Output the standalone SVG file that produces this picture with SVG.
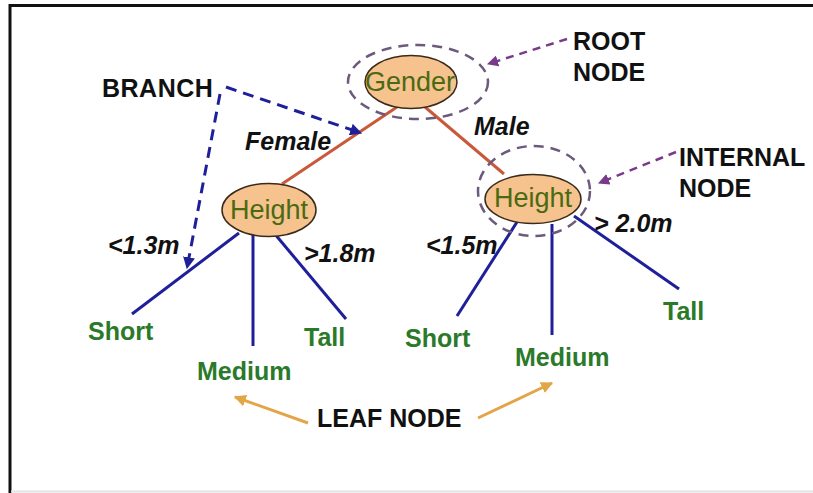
<svg xmlns="http://www.w3.org/2000/svg" width="813" height="493" viewBox="0 0 813 493">
  <defs>
    <marker id="ah-blue" viewBox="0 0 10 10" refX="9" refY="5" markerWidth="4" markerHeight="4" orient="auto" markerUnits="strokeWidth">
      <path d="M0,0 L10,5 L0,10 z" fill="#1f1f9a"/>
    </marker>
    <marker id="ah-purple" viewBox="0 0 10 10" refX="9" refY="5" markerWidth="4.5" markerHeight="4.5" orient="auto" markerUnits="strokeWidth">
      <path d="M0,0 L10,5 L0,10 z" fill="#7a3a8a"/>
    </marker>
    <marker id="ah-gold" viewBox="0 0 10 10" refX="9" refY="5" markerWidth="4" markerHeight="4" orient="auto" markerUnits="strokeWidth">
      <path d="M0,0 L10,5 L0,10 z" fill="#e2a548"/>
    </marker>
  </defs>
  <style>
    .lbl { font-family: "Liberation Sans", Arial, sans-serif; font-weight: bold; font-size: 25px; fill: #111; }
    .cond { font-family: "Liberation Sans", Arial, sans-serif; font-weight: bold; font-style: italic; font-size: 25px; fill: #111; }
    .leaf { font-family: "Liberation Sans", Arial, sans-serif; font-weight: bold; font-size: 25px; fill: #2a7a2a; }
    .ntext { font-family: "Liberation Sans", Arial, sans-serif; font-size: 27px; fill: #4a6a12; text-anchor: middle; }
    .node { fill: #f6c28e; stroke: #3a2a1a; stroke-width: 1.5; }
    .ring { fill: none; stroke: #6c5a7c; stroke-width: 2.5; stroke-dasharray: 10 7; }
    .edge-top { stroke: #c9593a; stroke-width: 3; fill: none; }
    .edge { stroke: #1f1f9a; stroke-width: 3; fill: none; }
    .ptr-blue { stroke: #1f1f9a; stroke-width: 3; stroke-dasharray: 11 7; fill: none; marker-end: url(#ah-blue); }
    .ptr-purple { stroke: #7a3a8a; stroke-width: 2.5; stroke-dasharray: 8 6; fill: none; marker-end: url(#ah-purple); }
    .ptr-gold { stroke: #e2a548; stroke-width: 3; fill: none; marker-end: url(#ah-gold); }
  </style>

  <!-- page background and frame -->
  <rect x="0" y="0" width="813" height="493" fill="#ffffff"/>
  <line x1="10" y1="5.5" x2="813" y2="5.5" stroke="#111" stroke-width="3"/>
  <line x1="10" y1="4" x2="10" y2="493" stroke="#111" stroke-width="3"/>
  <line x1="11" y1="491.5" x2="813" y2="491.5" stroke="#e4e4e4" stroke-width="2"/>

  <!-- connectors -->
  <g id="connectors">
    <line class="edge-top" x1="397" y1="107" x2="282" y2="184"/>
    <line class="edge-top" x1="425" y1="107" x2="504" y2="174"/>
    <line class="edge" x1="239" y1="233" x2="132" y2="314"/>
    <line class="edge" x1="253" y1="234" x2="253" y2="346"/>
    <line class="edge" x1="274" y1="233" x2="346" y2="319"/>
    <line class="edge" x1="517" y1="222" x2="457" y2="316"/>
    <line class="edge" x1="552" y1="224" x2="552" y2="335"/>
    <line class="edge" x1="574" y1="216" x2="679" y2="289"/>
  </g>

  <!-- callout pointers -->
  <g id="pointers">
    <path class="ptr-blue" d="M226,87 L361,133"/>
    <path class="ptr-blue" d="M220,94 L187,268"/>
    <path class="ptr-purple" d="M567,39 L488,64"/>
    <path class="ptr-purple" d="M676,152 L599,183"/>
    <path class="ptr-gold" d="M308,423 L235,397"/>
    <path class="ptr-gold" d="M478,418 L552,383"/>
  </g>

  <!-- root node -->
  <g id="root">
    <ellipse class="ring" cx="418" cy="82" rx="70" ry="37"/>
    <ellipse class="node" cx="411" cy="82" rx="46" ry="26.5"/>
    <text class="ntext" x="410" y="91">Gender</text>
  </g>

  <!-- internal nodes -->
  <g id="height-left">
    <ellipse class="node" cx="269" cy="210" rx="47" ry="26.5"/>
    <text class="ntext" x="269" y="219">Height</text>
  </g>
  <g id="height-right">
    <ellipse class="ring" cx="534" cy="191" rx="56" ry="45"/>
    <ellipse class="node" cx="533" cy="199" rx="48" ry="24.5"/>
    <text class="ntext" x="533" y="207">Height</text>
  </g>

  <!-- leaves -->
  <g id="leaf-short-left"><text class="leaf" x="88" y="340">Short</text></g>
  <g id="leaf-medium-left"><text class="leaf" x="197" y="380">Medium</text></g>
  <g id="leaf-tall-left"><text class="leaf" x="304" y="346">Tall</text></g>
  <g id="leaf-short-right"><text class="leaf" x="405" y="347">Short</text></g>
  <g id="leaf-medium-right"><text class="leaf" x="515" y="366">Medium</text></g>
  <g id="leaf-tall-right"><text class="leaf" x="663" y="320">Tall</text></g>

  <!-- branch conditions -->
  <g id="conditions">
    <text class="cond" x="245" y="150">Female</text>
    <text class="cond" x="474" y="135">Male</text>
    <text class="cond" x="108" y="254">&lt;1.3m</text>
    <text class="cond" x="304" y="262">&gt;1.8m</text>
    <text class="cond" x="426" y="254">&lt;1.5m</text>
    <text class="cond" x="594" y="232">&gt; 2.0m</text>
  </g>

  <!-- callout labels -->
  <g id="labels">
    <text class="lbl" x="102" y="97" letter-spacing="0.5">BRANCH</text>
    <text class="lbl" x="573" y="50">ROOT</text>
    <text class="lbl" x="573" y="81">NODE</text>
    <text class="lbl" x="679" y="166">INTERNAL</text>
    <text class="lbl" x="679" y="197">NODE</text>
    <text class="lbl" x="317" y="427">LEAF NODE</text>
  </g>
</svg>
